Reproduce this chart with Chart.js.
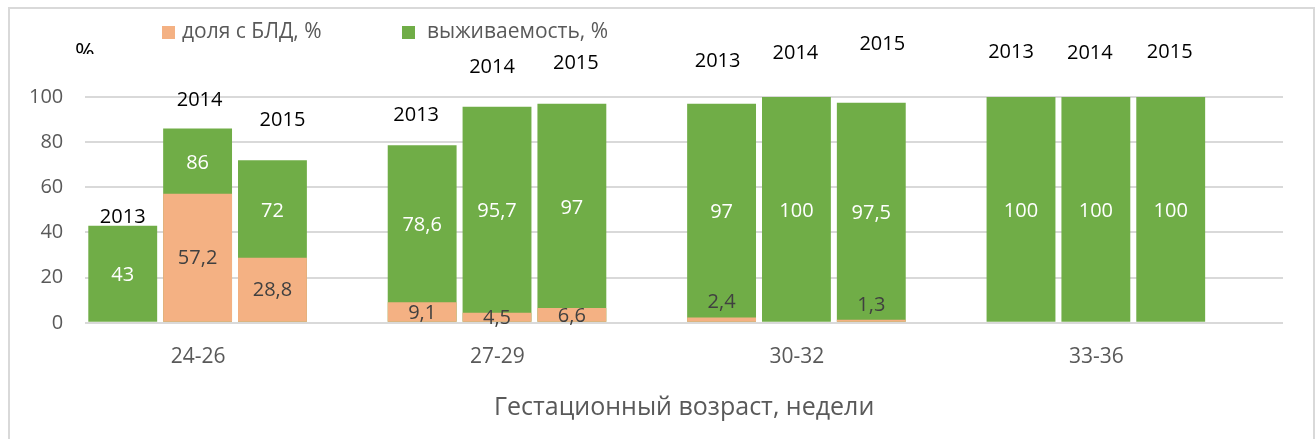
<!DOCTYPE html>
<html>
<head>
<meta charset="utf-8">
<script src="https://cdn.jsdelivr.net/npm/chart.js@4.4.1/dist/chart.umd.min.js"></script>
<style>
    html, body { margin: 0; padding: 0; background: #fff; overflow: hidden; }
    #wrap { position: relative; width: 1316px; height: 439px; }
</style>
</head>
<body>
<div id="wrap"><canvas id="chart"></canvas></div>
<script>
// chart data
const groups = ["24-26", "27-29", "30-32", "33-36"];
const years = ["2013", "2014", "2015"];
const survival2013 = [43, 78.6, 97, 100];
const survival2014 = [86, 95.7, 100, 100];
const survival2015 = [72, 97, 97.5, 100];
const bpd2013 = [null, 9.1, 2.4, null];
const bpd2014 = [57.2, 4.5, null, null];
const bpd2015 = [28.8, 6.6, 1.3, null];
const yTicks = [0, 20, 40, 60, 80, 100];

const survival = [survival2013, survival2014, survival2015];
const bpd = [bpd2013, bpd2014, bpd2015];

const GREEN = "#70AD47";
const ORANGE = "#F4B183";
const TEXT_GRAY = "#595959";
const FONT = "'Open Sans', 'Noto Sans', sans-serif";

// year captions were placed by hand in the original: [dx, lift above bar top]
const yearLabelShift = [
    [[0, 8], [-6, 30], [-4, 42], [-10, 45]],
    [[2, 28], [-5, 39], [-1, 44], [-6, 44]],
    [[10, 40], [4, 40], [11, 58], [-1, 45]]
];

function fmt(v) {
    return String(v).replace(".", ",");
}

// same stack id per year + unstacked value axis => orange overlaps green
const datasets = [];
years.forEach((yr, k) => {
    datasets.push({
        label: "доля с БЛД, %",
        data: bpd[k],
        backgroundColor: ORANGE,
        stack: "y" + yr,
        order: 0
    });
});
years.forEach((yr, k) => {
    datasets.push({
        label: "выживаемость, %",
        data: survival[k],
        backgroundColor: GREEN,
        stack: "y" + yr,
        order: 1
    });
});
// empty slot after the three years, as in the original layout
datasets.push({ label: "", data: [], stack: "gap", order: 2 });

const overlay = {
    id: "overlay",
    beforeDraw(chart) {
        const ctx = chart.ctx;
        ctx.save();
        ctx.strokeStyle = "#D9D9D9";
        ctx.lineWidth = 2;
        ctx.strokeRect(9, 8, 1305, 520);
        ctx.restore();
    },
    afterDatasetsDraw(chart) {
        const ctx = chart.ctx;
        ctx.save();
        ctx.textAlign = "center";
        ctx.textBaseline = "middle";

        years.forEach((yr, k) => {
            const oMeta = chart.getDatasetMeta(k);
            const gMeta = chart.getDatasetMeta(years.length + k);

            groups.forEach((g, i) => {
                const gBar = gMeta.data[i];
                const oBar = oMeta.data[i];
                const hasBpd = bpd[k][i] !== null;
                const bottom = hasBpd ? oBar.y : gBar.base;

                // survival value, centred in the visible green part
                ctx.font = "20px " + FONT;
                ctx.fillStyle = "#FFFFFF";
                ctx.fillText(fmt(survival[k][i]), gBar.x, (gBar.y + bottom) / 2 + 2);

                // BPD value
                if (hasBpd) {
                    const h = oBar.base - oBar.y;
                    const ly = h < 8 ? oBar.y - 15 : (oBar.y + oBar.base) / 2 + 1;
                    ctx.fillStyle = "#404040";
                    ctx.fillText(fmt(bpd[k][i]), oBar.x, ly);
                }

                // year caption
                const s = yearLabelShift[k][i];
                ctx.font = "20px " + FONT;
                ctx.fillStyle = "#000000";
                ctx.fillText(yr, gBar.x + s[0], gBar.y - s[1]);
            });
        });
        ctx.restore();
    },
    afterDraw(chart) {
        const ctx = chart.ctx;
        ctx.save();
        // legend
        ctx.font = "21px " + FONT;
        ctx.textBaseline = "middle";
        ctx.textAlign = "left";
        ctx.fillStyle = ORANGE;
        ctx.fillRect(162, 26, 13, 13);
        ctx.fillStyle = TEXT_GRAY;
        ctx.fillText("доля с БЛД, %", 182, 32);
        ctx.fillStyle = GREEN;
        ctx.fillRect(402, 26, 13, 13);
        ctx.fillStyle = TEXT_GRAY;
        ctx.fillText("выживаемость, %", 427, 32);

        // unit caption, cut at the bottom as in the original
        ctx.beginPath();
        ctx.rect(0, 0, chart.width, 54);
        ctx.clip();
        ctx.font = "24px " + FONT;
        ctx.fillStyle = "#000000";
        ctx.textBaseline = "alphabetic";
        ctx.fillText("%", 75, 60);
        ctx.restore();
    }
};

new Chart(document.getElementById("chart"), {
    type: "bar",
    data: { labels: groups, datasets: datasets },
    options: {
        responsive: true,
        maintainAspectRatio: false,
        animation: false,
        layout: { padding: { left: 7, right: 33, top: 97, bottom: 16 } },
        datasets: {
            bar: { barPercentage: 0.92, categoryPercentage: 1 }
        },
        plugins: {
            legend: { display: false },
            tooltip: { enabled: false }
        },
        scales: {
            x: {
                offset: true,
                grid: { display: false, offset: true },
                border: { display: false },
                ticks: {
                    color: TEXT_GRAY,
                    font: { family: FONT, size: 21 },
                    padding: 14,
                    labelOffset: -37
                },
                title: {
                    display: true,
                    text: "Гестационный возраст, недели",
                    color: TEXT_GRAY,
                    font: { family: FONT, size: 25 },
                    padding: { top: 9, bottom: 0 }
                }
            },
            y: {
                min: 0,
                max: 100,
                stacked: false,
                afterBuildTicks(scale) {
                    scale.ticks = yTicks.map(v => ({ value: v }));
                },
                border: { display: false },
                grid: { color: "#D9D9D9", lineWidth: 2, drawTicks: false },
                ticks: {
                    color: TEXT_GRAY,
                    font: { family: FONT, size: 20 },
                    padding: 22
                }
            }
        }
    },
    plugins: [overlay]
});
</script>
</body>
</html>
